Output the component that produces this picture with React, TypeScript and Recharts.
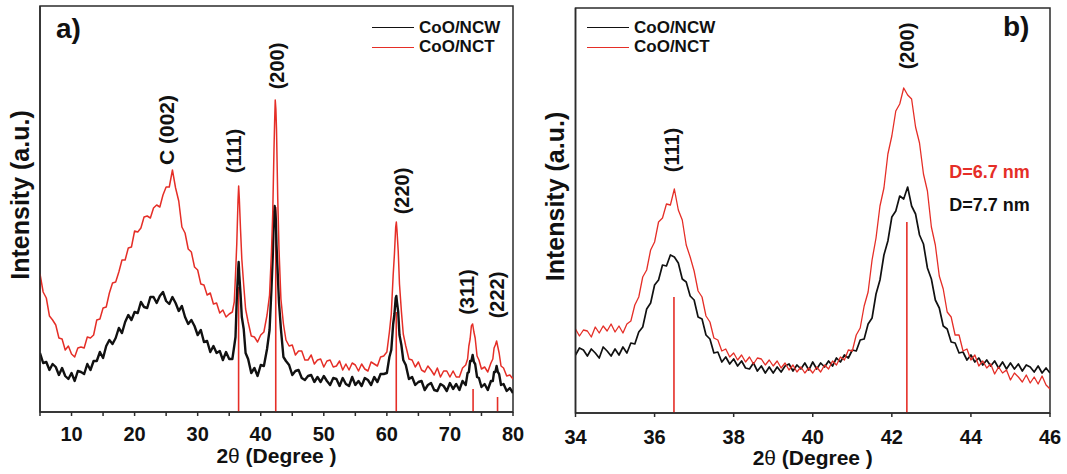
import React from 'react';
import { LineChart, Line, XAxis, YAxis, ReferenceLine, ReferenceDot, ReferenceArea, Legend } from 'recharts';

const FONT = '"Liberation Sans", Arial, Helvetica, sans-serif';
const RED = '#e52e27';
const BLACK = '#111111';
const FRAME = '#2b2b2b';

// ---------- Panel a) : full XRD pattern ----------
const aTheta = [
  5, 5.5, 6, 6.5, 7, 7.5, 8, 8.5, 9, 9.5, 10, 10.5, 11, 11.5, 12, 12.5, 13, 13.5, 14, 14.5,
  15, 15.5, 16, 16.5, 17, 17.5, 18, 18.5, 19, 19.5, 20, 20.5, 21, 21.5, 22, 22.5, 23, 23.5, 24, 24.5,
  25, 25.5, 26, 26.5, 27, 27.5, 28, 28.5, 29, 29.5, 30, 30.5, 31, 31.5, 32, 32.5, 33, 33.5, 34, 34.5, 35,
  35.5, 35.8, 36.0, 36.2, 36.4, 36.5, 36.6, 36.8, 37.0, 37.3, 37.6, 38, 38.5, 39, 39.5, 40, 40.5, 41,
  41.4, 41.7, 41.9, 42.1, 42.2, 42.3, 42.4, 42.5, 42.7, 42.9, 43.2, 43.6, 44,
  44.5, 45, 45.5, 46, 46.5, 47, 47.5, 48, 48.5, 49, 49.5, 50, 50.5, 51, 51.5, 52, 52.5, 53, 53.5, 54,
  54.5, 55, 55.5, 56, 56.5, 57, 57.5, 58, 58.5, 59, 59.5,
  60, 60.4, 60.7, 61.0, 61.2, 61.4, 61.5, 61.6, 61.8, 62.0, 62.3, 62.6, 63.0, 63.5,
  64, 64.5, 65, 65.5, 66, 66.5, 67, 67.5, 68, 68.5, 69, 69.5, 70, 70.5, 71, 71.5, 72,
  72.5, 72.8, 73.0, 73.2, 73.4, 73.6, 73.8, 74.0, 74.3, 74.6, 75, 75.5, 76, 76.5, 76.8, 77.0, 77.2,
  77.4, 77.6, 77.8, 78.1, 78.5, 79, 79.5, 80,
];

const aNCW = [
  59, 49, 50, 42, 48, 45, 37, 44, 36, 33, 39, 31, 41, 40, 38, 48, 42, 51, 51, 60,
  54, 66, 72, 68, 74, 84, 79, 90, 97, 92, 100, 99, 110, 105, 104, 115, 115, 109, 116, 120,
  111, 108, 115, 109, 101, 106, 95, 88, 92, 86, 77, 82, 70, 71, 60, 66, 59, 61, 52, 60, 53,
  53, 66, 75, 113, 140, 150, 137, 118, 95, 83, 59, 53, 39, 44, 36, 47, 46, 63,
  82, 123, 155, 197, 206, 201, 192, 167, 138, 109, 83, 55, 51,
  47, 37, 41, 42, 34, 32, 36, 37, 30, 35, 30, 36, 31, 27, 34, 33, 26, 34, 28, 26,
  35, 27, 31, 26, 34, 32, 27, 35, 30, 38, 38,
  39, 55, 62, 88, 98, 114, 116, 110, 100, 77, 67, 52, 47, 33,
  35, 27, 30, 31, 22, 27, 29, 22, 21, 28, 26, 21, 29, 23, 28, 22, 31,
  27, 39, 40, 51, 51, 57, 50, 48, 35, 34, 25, 28, 22, 31, 31, 40, 40,
  46, 40, 38, 27, 28, 21, 24, 19,
];

const aNCT = [
  138, 120, 114, 96, 92, 87, 74, 73, 62, 66, 58, 55, 64, 65, 64, 75, 74, 77, 92, 93,
  104, 105, 119, 129, 130, 140, 152, 152, 164, 165, 181, 180, 184, 195, 196, 194, 204, 207, 205, 217,
  225, 225, 242, 224, 211, 185, 179, 163, 160, 145, 142, 128, 127, 117, 119, 108, 109, 99, 102, 95, 98,
  100, 110, 137, 168, 212, 226, 214, 182, 153, 127, 103, 90, 76, 75, 70, 77, 80, 97,
  117, 160, 198, 262, 289, 312, 303, 283, 213, 162, 113, 88, 72,
  66, 67, 57, 61, 61, 52, 52, 57, 48, 52, 53, 45, 51, 52, 45, 46, 51, 42, 48, 42,
  49, 47, 41, 48, 43, 41, 50, 48, 46, 55, 56,
  60, 80, 98, 137, 158, 185, 190, 182, 161, 128, 101, 78, 66, 53,
  52, 45, 50, 42, 40, 46, 42, 37, 44, 35, 41, 41, 35, 41, 35, 35, 44,
  47, 53, 66, 73, 86, 88, 80, 74, 56, 52, 43, 45, 40, 49, 53, 64, 67,
  71, 65, 59, 46, 44, 36, 37, 33,
];

const aTicks = [5, 10, 15, 20, 25, 30, 35, 40, 45, 50, 55, 60, 65, 70, 75, 80];
const aRefPos = [36.49, 42.38, 61.49, 73.67, 77.55];
const aRefHeight = [125, 205, 100, 23, 15];

// ---------- Panel b) : zoom on (111) and (200) ----------
const bTheta = [
  34.0, 34.1, 34.2, 34.3, 34.4, 34.5, 34.6, 34.7, 34.8, 34.9,
  35.0, 35.1, 35.2, 35.3, 35.4, 35.5, 35.6, 35.7, 35.8, 35.9,
  36.0, 36.1, 36.2, 36.3, 36.4, 36.5, 36.6, 36.7, 36.8, 36.9,
  37.0, 37.1, 37.2, 37.3, 37.4, 37.5, 37.6, 37.7, 37.8, 37.9,
  38.0, 38.1, 38.2, 38.3, 38.4, 38.5, 38.6, 38.7, 38.8, 38.9,
  39.0, 39.1, 39.2, 39.3, 39.4, 39.5, 39.6, 39.7, 39.8, 39.9,
  40.0, 40.1, 40.2, 40.3, 40.4, 40.5, 40.6, 40.7, 40.8, 40.9,
  41.0, 41.1, 41.2, 41.3, 41.4, 41.5, 41.6, 41.7, 41.8, 41.9,
  42.0, 42.1, 42.2, 42.3, 42.4, 42.5, 42.6, 42.7, 42.8, 42.9,
  43.0, 43.1, 43.2, 43.3, 43.4, 43.5, 43.6, 43.7, 43.8, 43.9,
  44.0, 44.1, 44.2, 44.3, 44.4, 44.5, 44.6, 44.7, 44.8, 44.9,
  45.0, 45.1, 45.2, 45.3, 45.4, 45.5, 45.6, 45.7, 45.8, 45.9,
  46.0,
];

const bNCW = [
  58, 65, 63, 57, 64, 60, 55, 66, 62, 57,
  64, 58, 66, 60, 70, 69, 81, 86, 104, 110,
  128, 133, 148, 147, 158, 156, 150, 134, 131, 117,
  113, 96, 94, 78, 74, 60, 61, 51, 56, 49,
  54, 47, 52, 45, 44, 50, 42, 47, 40, 46,
  40, 46, 41, 47, 49, 42, 48, 44, 50, 43,
  51, 44, 50, 46, 52, 47, 55, 51, 58, 55,
  63, 62, 73, 74, 89, 95, 119, 133, 158, 172,
  196, 202, 217, 214, 226, 207, 199, 178, 169, 145,
  134, 113, 105, 87, 84, 71, 70, 60, 61, 53,
  58, 51, 55, 48, 53, 47, 52, 45, 51, 44,
  50, 44, 49, 42, 48, 46, 41, 47, 40, 45,
  40,
];

const bNCT = [
  84, 77, 83, 82, 76, 86, 80, 87, 82, 89,
  81, 87, 80, 89, 92, 108, 116, 136, 143, 163,
  171, 191, 195, 209, 208, 224, 203, 193, 168, 156,
  142, 122, 116, 97, 91, 75, 73, 62, 64, 56,
  60, 53, 58, 51, 56, 49, 55, 54, 48, 53,
  47, 52, 45, 50, 43, 48, 41, 46, 40, 45,
  40, 46, 41, 48, 44, 52, 48, 56, 53, 63,
  62, 78, 85, 107, 121, 153, 175, 207, 225, 259,
  277, 302, 309, 325, 318, 314, 286, 270, 239, 222,
  186, 168, 137, 124, 101, 96, 78, 78, 62, 64,
  53, 58, 47, 52, 45, 49, 39, 46, 40, 43,
  33, 40, 36, 31, 38, 30, 36, 29, 37, 28,
  24,
];

const bTicks = [34, 36, 38, 40, 42, 44, 46];
const bRefPos = [36.49, 42.38];
const bRefHeight = [116, 191];

const legendOrder = ['CoO/NCW', 'CoO/NCT'];

const rowsA = aTheta.map((t, i) => ({ t, ncw: aNCW[i], nct: aNCT[i] }));
const rowsB = bTheta.map((t, i) => ({ t, ncw: bNCW[i], nct: bNCT[i] }));

// ---------- annotation layout (data coordinates) ----------
type Note = { text: string; x: number; y: number; rot?: boolean; color?: string; size?: number; anchor?: 'start' | 'middle' | 'end' };

const aNotes: Note[] = [
  { text: 'a)', x: 7.54, y: 374, size: 28, anchor: 'start' },
  { text: 'C (002)', x: 25.0, y: 282, rot: true, size: 21 },
  { text: '(111)', x: 35.76, y: 261, rot: true },
  { text: '(200)', x: 42.58, y: 346, rot: true },
  { text: '(220)', x: 62.4, y: 221, rot: true },
  { text: '(311)', x: 72.7, y: 120, rot: true },
  { text: '(222)', x: 77.54, y: 117, rot: true },
];

const bNotes: Note[] = [
  { text: 'b)', x: 44.81, y: 377, size: 28, anchor: 'start' },
  { text: '(111)', x: 36.44, y: 263, rot: true },
  { text: '(200)', x: 42.38, y: 367, rot: true },
  { text: 'D=6.7 nm', x: 43.45, y: 241, color: RED, size: 18, anchor: 'start' },
  { text: 'D=7.7 nm', x: 43.45, y: 208, color: BLACK, size: 18, anchor: 'start' },
];

const noteShape = (n: Note) => (p: any) => {
  const cx = p.cx;
  const cy = p.cy;
  if (n.rot) {
    return (
      <text
        x={cx}
        y={cy}
        transform={`rotate(-90 ${cx} ${cy})`}
        textAnchor="middle"
        dominantBaseline="central"
        fontFamily={FONT}
        fontWeight="bold"
        fontSize={n.size ?? 20}
        fill={n.color ?? BLACK}
      >
        {n.text}
      </text>
    );
  }
  return (
    <text
      x={cx}
      y={cy}
      textAnchor={n.anchor ?? 'middle'}
      dominantBaseline={n.size && n.size > 20 ? 'alphabetic' : 'central'}
      fontFamily={FONT}
      fontWeight="bold"
      fontSize={n.size ?? 20}
      fill={n.color ?? BLACK}
    >
      {n.text}
    </text>
  );
};

const LegendBox = (props: any) => {
  const items = [...(props.payload || [])].sort(
    (a: any, b: any) => legendOrder.indexOf(a.value) - legendOrder.indexOf(b.value)
  );
  return (
    <div style={{ fontFamily: FONT }}>
      {items.map((it: any) => (
        <div key={it.value} style={{ display: 'flex', alignItems: 'center', height: 19.4 }}>
          <div style={{ width: 42, height: 0, borderTop: `1.6px solid ${it.color}` }} />
          <span style={{ marginLeft: 5, fontSize: 17, fontWeight: 'bold', color: '#111', lineHeight: '19.4px', whiteSpace: 'nowrap' }}>
            {it.value}
          </span>
        </div>
      ))}
    </div>
  );
};

const XLabel = (props: any) => {
  const { viewBox, baseOffset } = props;
  const x = viewBox.x + viewBox.width / 2;
  const y = viewBox.y + viewBox.height - baseOffset;
  return (
    <text x={x} y={y} textAnchor="middle" fontFamily={FONT} fontSize={21} fontWeight="bold" fill="#111">
      2<tspan fontWeight="normal">θ</tspan> (Degree )
    </text>
  );
};

const YLabel = (props: any) => {
  const { viewBox, cxAbs, cyShift } = props;
  const cx = cxAbs;
  const cy = viewBox.y + viewBox.height / 2 + cyShift;
  return (
    <text
      x={cx}
      y={cy}
      transform={`rotate(-90 ${cx} ${cy})`}
      textAnchor="middle"
      dominantBaseline="central"
      fontFamily={FONT}
      fontSize={25}
      fontWeight="bold"
      fill="#111"
    >
      Intensity (a.u.)
    </text>
  );
};

const tickStyle = { fontSize: 20, fontWeight: 'bold', fill: '#111', fontFamily: FONT };

type PanelProps = {
  rows: any[];
  domainX: [number, number];
  domainY: [number, number];
  ticks: number[];
  fmt: (v: number) => string;
  refPos: number[];
  refHeight: number[];
  notes: Note[];
  width: number;
  height: number;
  margin: { top: number; right: number; bottom: number; left: number };
  yAxisWidth: number;
  xAxisHeight: number;
  tickMargin: number;
  xLabelOffset: number;
  yLabelX: number;
  legendPos: { left: number; top: number };
  blackWidth: number;
  redWidth: number;
};

function Panel(p: PanelProps) {
  return (
    <LineChart width={p.width} height={p.height} data={p.rows} margin={p.margin}>
      <XAxis
        dataKey="t"
        type="number"
        domain={p.domainX}
        allowDataOverflow
        ticks={p.ticks}
        interval={0}
        tickFormatter={p.fmt}
        tick={tickStyle}
        tickSize={4}
        tickMargin={p.tickMargin}
        height={p.xAxisHeight}
        stroke={FRAME}
        strokeWidth={1.5}
        axisLine={{ stroke: FRAME, strokeWidth: 1.5 }}
        tickLine={{ stroke: FRAME, strokeWidth: 1.5 }}
        label={<XLabel baseOffset={p.xLabelOffset} />}
      />
      <YAxis
        type="number"
        domain={p.domainY}
        allowDataOverflow
        tick={false}
        tickLine={false}
        width={p.yAxisWidth}
        axisLine={{ stroke: FRAME, strokeWidth: 1.5 }}
        label={<YLabel cxAbs={p.yLabelX} cyShift={-14} />}
      />
      <ReferenceArea
        x1={p.domainX[0]}
        x2={p.domainX[1]}
        y1={p.domainY[0]}
        y2={p.domainY[1]}
        fill="none"
        fillOpacity={0}
        stroke={FRAME}
        strokeWidth={1.5}
        ifOverflow="visible"
      />
      {p.refPos.map((x, i) => (
        <ReferenceLine
          key={`ref-${i}`}
          segment={[
            { x, y: 0 },
            { x, y: p.refHeight[i] },
          ]}
          stroke={RED}
          strokeWidth={1.6}
          ifOverflow="visible"
        />
      ))}
      <Line
        type="linear"
        dataKey="ncw"
        name="CoO/NCW"
        stroke={BLACK}
        strokeWidth={p.blackWidth}
        strokeLinejoin="round"
        dot={false}
        activeDot={false}
        isAnimationActive={false}
      />
      <Line
        type="linear"
        dataKey="nct"
        name="CoO/NCT"
        stroke={RED}
        strokeWidth={p.redWidth}
        strokeLinejoin="round"
        dot={false}
        activeDot={false}
        isAnimationActive={false}
      />
      {p.notes.map((n, i) => (
        <ReferenceDot key={`note-${i}`} x={n.x} y={n.y} r={0} ifOverflow="visible" shape={noteShape(n)} />
      ))}
      <Legend
        layout="vertical"
        align="center"
        verticalAlign="middle"
        content={<LegendBox />}
        wrapperStyle={{ left: p.legendPos.left, top: p.legendPos.top, width: 'auto', height: 'auto' }}
      />
    </LineChart>
  );
}

export default function App() {
  return (
    <div style={{ position: 'absolute', left: 0, top: 0, width: 1067, height: 474, background: '#ffffff', overflow: 'hidden' }}>
      <div style={{ position: 'absolute', left: 0, top: 0 }}>
        <Panel
          rows={rowsA}
          domainX={[5, 80]}
          domainY={[0, 406]}
          ticks={aTicks}
          fmt={(v: number) => (v % 10 === 0 ? String(v) : '')}
          refPos={aRefPos}
          refHeight={aRefHeight}
          notes={aNotes}
          width={530}
          height={474}
          margin={{ top: 6, right: 17, bottom: 0, left: 0 }}
          yAxisWidth={40}
          xAxisHeight={62}
          tickMargin={11}
          xLabelOffset={11}
          yLabelX={20}
          legendPos={{ left: 372, top: 18 }}
          blackWidth={2.4}
          redWidth={1.5}
        />
      </div>
      <div style={{ position: 'absolute', left: 530, top: 0 }}>
        <Panel
          rows={rowsB}
          domainX={[34, 46]}
          domainY={[0, 405]}
          ticks={bTicks}
          fmt={(v: number) => String(v)}
          refPos={bRefPos}
          refHeight={bRefHeight}
          notes={bNotes}
          width={537}
          height={474}
          margin={{ top: 8, right: 17, bottom: 0, left: 0 }}
          yAxisWidth={45.5}
          xAxisHeight={61}
          tickMargin={13}
          xLabelOffset={9}
          yLabelX={25}
          legendPos={{ left: 57, top: 18 }}
          blackWidth={1.7}
          redWidth={1.3}
        />
      </div>
    </div>
  );
}
